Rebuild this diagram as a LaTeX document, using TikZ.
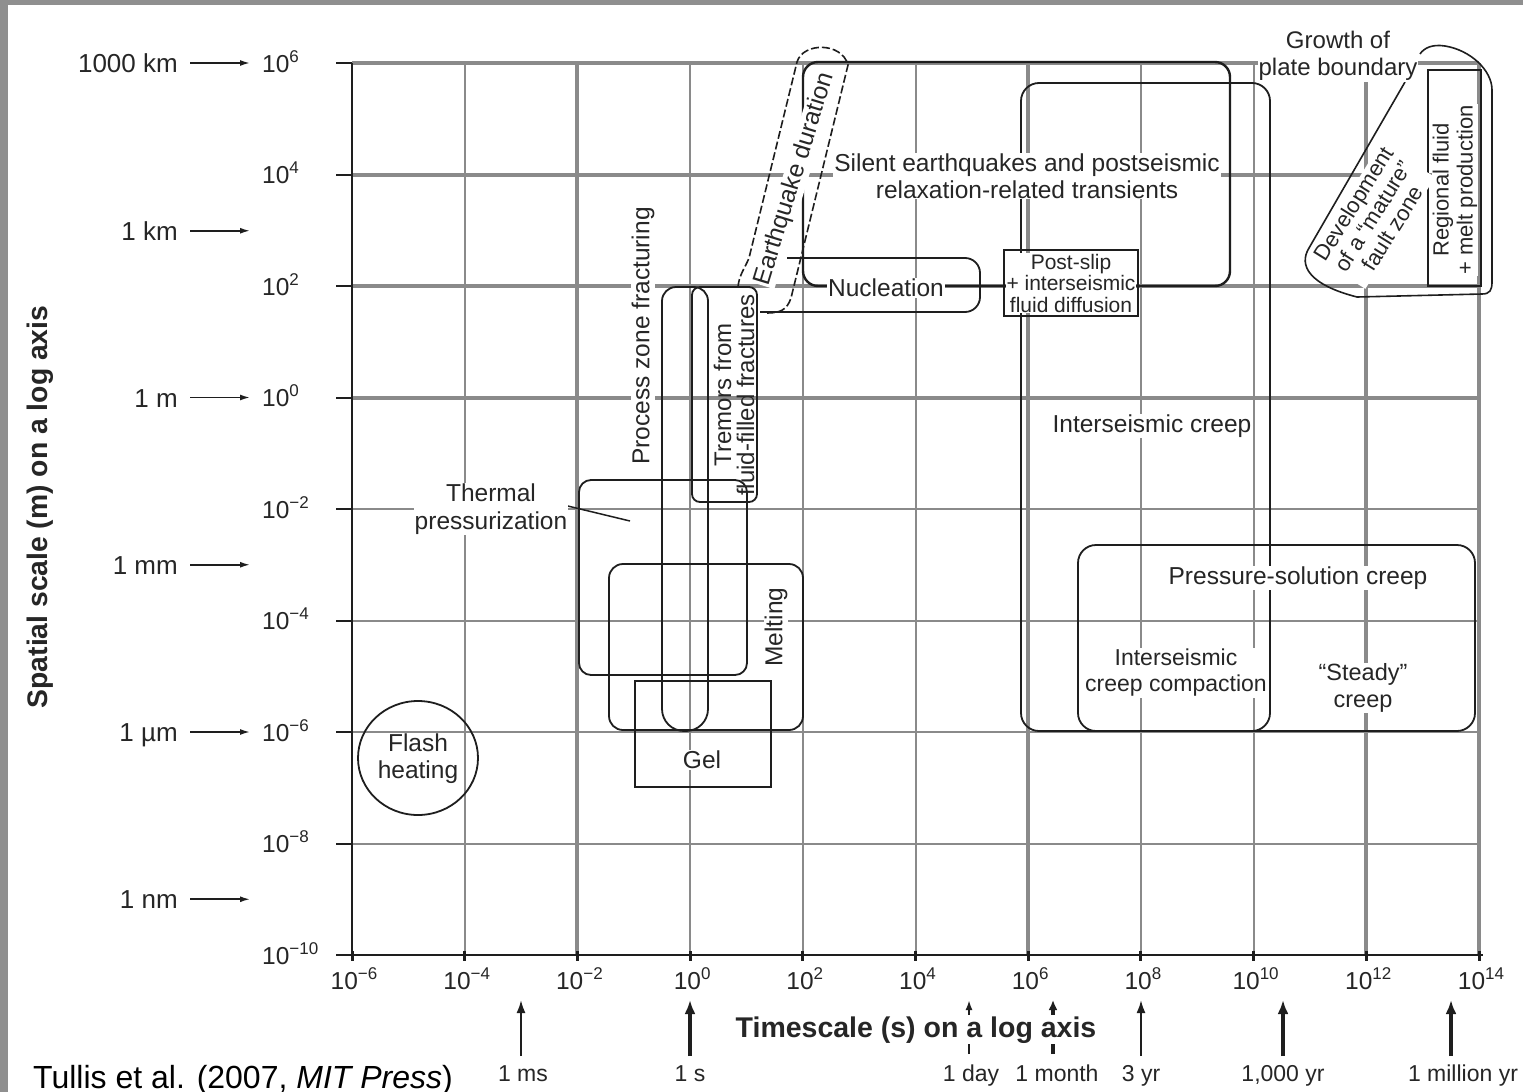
\documentclass[tikz,border=0pt]{standalone}
\usepackage{fontspec}
\setmainfont{Liberation Sans}
\usetikzlibrary{arrows.meta}
\definecolor{gridc}{RGB}{138,138,138}
\definecolor{boxc}{RGB}{30,30,30}
\definecolor{txtc}{RGB}{38,38,38}
\definecolor{framec}{RGB}{143,143,143}
\newcommand\fsz[2]{\fontsize{#1}{#2}\selectfont}
\newcommand\tenp[1]{10\raisebox{0.4em}{\fsz{17}{17}#1}}
\begin{document}
\begin{tikzpicture}[x=1pt,y=-1pt,
  gthick/.style={draw=gridc,line width=4pt},
  gthin/.style={draw=gridc,line width=2pt},
  axisline/.style={draw=boxc,line width=2pt},
  box/.style={draw=boxc,line width=1.8pt},
  lbl/.style={fill=white,inner sep=1pt,text=txtc,align=center,font=\fsz{24.5}{27}},
  ticklbl/.style={text=txtc,inner sep=0pt,font=\fsz{24.5}{27}},
  unitlbl/.style={text=txtc,inner sep=0pt,font=\fsz{26}{28}},
  timelbl/.style={text=txtc,inner sep=0pt,font=\fsz{23}{25}},
  uarr/.style={draw=boxc,line width=1.6pt,-{Latex[length=10pt,width=6pt]}},
  tthin/.style={draw=boxc,line width=2pt,-{Latex[length=13pt,width=9pt]}},
  tthick/.style={draw=boxc,line width=4pt,-{Latex[length=14pt,width=11pt]}},
  tsmall/.style={draw=boxc,line width=2pt,-{Latex[length=10pt,width=7pt]}},
  tsmallthick/.style={draw=boxc,line width=4pt,-{Latex[length=10pt,width=9pt]}}]

\useasboundingbox (0,0) rectangle (1523,1092);
\fill[white] (0,0) rectangle (1523,1092);
\fill[framec] (0,0) rectangle (8,1092);
\fill[framec] (0,0) rectangle (1523,5);

% grid
\foreach \y in {63,174.5,286,397.5} \draw[gthick] (352,\y) -- (1479,\y);
\foreach \y in {509,620.5,732,843.5} \draw[gthin] (352,\y) -- (1479,\y);
\foreach \x in {577.4,1028.2,1366.3,1479} \draw[gthick] (\x,63) -- (\x,955);
\foreach \x in {464.7,690.1,802.8,915.5,1140.9,1253.6} \draw[gthin] (\x,63) -- (\x,955);

% axes
\draw[axisline] (352,63) -- (352,955);
\draw[axisline] (338,955) -- (1483,955);
\foreach \y/\e [count=\i] in {63/6,174.5/4,286/2,397.5/0,509/−2,620.5/−4,732/−6,843.5/−8,955/−10}{
  \draw[axisline] (336,\y) -- (352,\y);
  \node[ticklbl,anchor=base west] (yl\i) at (262,\y+9) {\tenp{\e}};
}
\foreach \x/\e [count=\i] in {352/−6,464.7/−4,577.4/−2,690.1/0,802.8/2,915.5/4,1028.2/6,1140.9/8,1253.6/10,1366.3/12,1479/14}{
  \draw[draw=boxc,line width=3pt] (\x,951) -- (\x,961);
  \node[ticklbl,anchor=base] (xl\i) at (\x+2,989) {\tenp{\e}};
}

% unit labels on the left
\foreach \y/\t [count=\i] in {63/1000 km,230.75/1 km,397.5/1 m,564.75/1 mm,732/1 µm,899.25/1 nm}{
  \node[unitlbl,anchor=base east] (u\i) at (178,\y+9.5) {\t};
  \coordinate (ut\i) at (250,\y);
  \draw[uarr] (u\i.east |- ut\i) ++(12,0) -- (ut\i);
}

% time arrows
\coordinate (ms-t) at (521,1000);   \coordinate (ms-b) at (521,1056);
\coordinate (s-t) at (690,1000);    \coordinate (s-b) at (690,1056);
\coordinate (day-t) at (969,1000);  \coordinate (day-b) at (969,1054);
\coordinate (mon-t) at (1053,1000); \coordinate (mon-b) at (1053,1054);
\coordinate (yr3-t) at (1141,1000); \coordinate (yr3-b) at (1141,1056);
\coordinate (kyr-t) at (1283,1000); \coordinate (kyr-b) at (1283,1056);
\coordinate (myr-t) at (1451,1000); \coordinate (myr-b) at (1451,1056);
\draw[tthin] (ms-b) -- (ms-t);
\draw[tthick] (s-b) -- (s-t);
\draw[tsmall] (day-b) -- (day-t);
\draw[tsmallthick] (mon-b) -- (mon-t);
\draw[tthin] (yr3-b) -- (yr3-t);
\draw[tthick] (kyr-b) -- (kyr-t);
\draw[tthick] (myr-b) -- (myr-t);
\node[timelbl,anchor=base] (ms) at (523,1081) {1 ms};
\node[timelbl,anchor=base] (sec) at (690,1081) {1 s};
\node[timelbl,anchor=base] (day) at (971,1081) {1 day};
\node[timelbl,anchor=base] (month) at (1057,1081) {1 month};
\node[timelbl,anchor=base] (yr3) at (1141,1081) {3 yr};
\node[timelbl,anchor=base] (kyr) at (1283,1081) {1,000 yr};
\node[timelbl,anchor=base] (myr) at (1463,1081) {1 million yr};

% axis titles and caption
\node[fill=white,inner sep=1pt,text=txtc,font=\fsz{28.5}{30}\bfseries,anchor=base] (xtitle) at (916,1037) {Timescale (s) on a log axis};
\node[text=txtc,inner sep=0pt,font=\fsz{28.3}{30}\bfseries,rotate=90] (ytitle) at (40,507) {Spatial scale (m) on a log axis};
\node[text=black,inner sep=0pt,font=\fsz{32}{34},anchor=base west] (caption) at (33,1088) {Tullis et al. (2007, \textit{MIT Press})};

% ---- regions ----
\draw[box] (418,758) ellipse [x radius=60pt, y radius=57pt];
\draw[box,line width=1.4pt] (635,681) rectangle (771,787);
\draw[box,rounded corners=14pt] (609,564) rectangle (803,730);
\draw[box,rounded corners=12pt] (579,480) rectangle (747,675);
\draw[box,rounded corners=14pt] (662,500) |- (708,287) -- (708,500);
\draw[box,rounded corners=22pt] (708,500) |- (662,731) -- (662,500);
\draw[box,rounded corners=8pt] (692,287) rectangle (757,502);
\draw[box,line width=1.6pt,dash pattern=on 8pt off 3pt]
  (738,287) .. controls (739,275) and (745,268) .. (749,258) -- (797,62)
  .. controls (803,42) and (842,42) .. (848,65) -- (791,298)
  .. controls (787,310) and (780,313) .. (767,313);
\draw[box,line width=2.4pt,rounded corners=15pt] (803,62) rectangle (1230,286);
\draw[box,rounded corners=15pt] (787,258) -- (980,258) -- (980,312) -- (760,312);
\draw[box,line width=1.5pt] (1004,250) rectangle (1138,316);
\draw[box,rounded corners=18pt] (1021,83) rectangle (1270,731);
\draw[box,rounded corners=18pt] (1078,545) rectangle (1475,731);
\draw[box,line width=1.5pt] (1428,70) rectangle (1481,286);
\draw[box,line width=1.6pt] (1405,82) -- (1309,248) .. controls (1298,266) and (1310,285) .. (1357,297)
  -- (1482,294) .. controls (1490,294) and (1492,290) .. (1492,282) -- (1492,90)
  .. controls (1492,70) and (1470,50) .. (1445,46) .. controls (1432,44) and (1424,48) .. (1420,54);
\coordinate (th-a) at (547,501);
\coordinate (th-b) at (630,521);
\draw[box,line width=1.5pt] (th-a) -- (th-b);

% ---- labels ----
\node[lbl] (flash) at (418,759) {Flash\\heating};
\node[lbl] (gel) at (702,760) {Gel};
\node[lbl,rotate=90] (melt) at (776,627) {Melting};
\node[lbl,font=\fsz{24.5}{28}] (therm) at (491,509) {Thermal\\pressurization};
\node[lbl,rotate=90] (pzf) at (643,336) {Process zone fracturing};
\node[lbl,rotate=90,fill=none,font=\fsz{24}{23}] (trem) at (734,395) {Tremors from\\fluid-filled fractures};
\node[lbl,rotate=73] (eqd) at (795,179) {Earthquake duration};
\node[lbl] (silent) at (1027,176) {Silent earthquakes and postseismic\\relaxation-related transients};
\node[lbl] (nucl) at (886,288) {Nucleation};
\node[lbl,font=\fsz{21}{21.5}] (post) at (1071,283) {Post-slip\\+ interseismic\\fluid diffusion};
\node[lbl] (iscreep) at (1152,426) {Interseismic creep};
\node[lbl] (psc) at (1298,578) {Pressure-solution creep};
\node[lbl,inner xsep=0pt,font=\fsz{23}{26}] (iscc) at (1176,673) {Interseismic\\creep compaction};
\node[lbl,font=\fsz{23.5}{27}] (steady) at (1363,688) {“Steady”\\creep};
\node[lbl,font=\fsz{24}{27}] (growth) at (1338,56) {Growth of\\plate boundary};
\node[lbl,rotate=90,font=\fsz{22}{24}] (regional) at (1455,190) {Regional fluid\\+ melt production};
\node[lbl,rotate=58,font=\fsz{22}{23}] (devel) at (1373,216) {Development\\of a “mature”\\fault zone};
\end{tikzpicture}
\end{document}
